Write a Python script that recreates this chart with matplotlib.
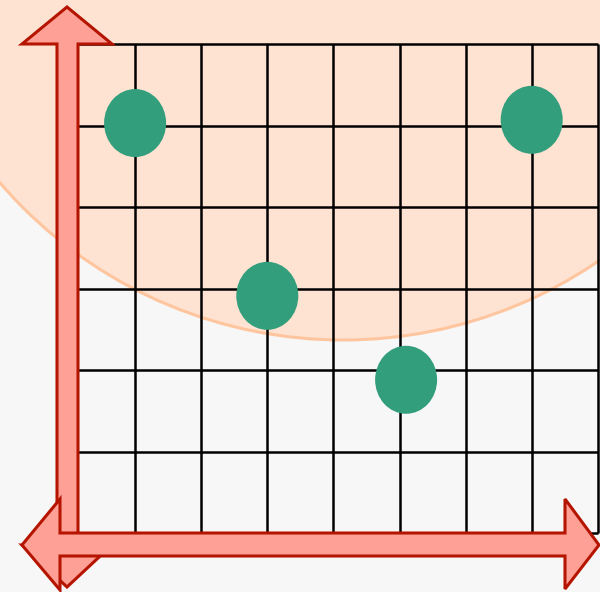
import matplotlib
matplotlib.use("Agg")
import matplotlib.pyplot as plt
from matplotlib.patches import Ellipse, Polygon

# grid size (columns x rows) and scatter points in grid units
n_cols = 8
n_rows = 6
dot_x = [1.0, 3.0, 5.1, 7.0]
dot_y = [5.03, 2.91, 1.88, 5.07]

# pixel layout of the picture -> grid units
X0, DX = 69.0, 66.1
Y0, DY = 533.0, 81.5


def px(x, y):
    return ((x - X0) / DX, (Y0 - y) / DY)


fig = plt.figure(figsize=(6, 5.92), dpi=100)
ax = fig.add_axes([0, 0, 1, 1])
ax.set_xlim(px(0, 0)[0], px(600, 0)[0])
ax.set_ylim(px(0, 592)[1], px(0, 0)[1])
ax.axis('off')
fig.patch.set_facecolor('#f7f7f7')

# big peach circle in the background
cx, cy = px(343, -113)
ax.add_patch(Ellipse((cx, cy), 2 * 453 / DX, 2 * 453 / DY,
                     facecolor='#fee3d3', edgecolor='#ffc59e', lw=2.2, zorder=1))

# grid
ax.vlines(range(n_cols + 1), 0, n_rows, color='black', lw=1.8, zorder=2)
ax.hlines(range(n_rows + 1), 0, n_cols, color='black', lw=1.8, zorder=2)

# dots
for x, y in zip(dot_x, dot_y):
    ax.add_patch(Ellipse((x, y), 62 / DX, 68 / DY, facecolor='#339e7c',
                         edgecolor='none', zorder=3))

fill = '#ffa097'
edge = '#b51500'

# vertical double arrow
vert = [(67, 7), (112, 44), (78, 44), (78, 545), (112, 545), (67, 587),
        (22, 545), (57, 545), (57, 44), (22, 44)]
ax.add_patch(Polygon([px(*p) for p in vert], closed=True, facecolor=fill,
                     edgecolor=edge, lw=2.2, joinstyle='miter', zorder=4))

# horizontal double arrow
horiz = [(22, 545), (60, 499), (60, 533), (565, 533), (565, 499), (599, 545),
         (565, 589), (565, 556), (60, 556), (60, 590)]
ax.add_patch(Polygon([px(*p) for p in horiz], closed=True, facecolor=fill,
                     edgecolor=edge, lw=2.2, joinstyle='miter', zorder=5))

fig.savefig('out.png', dpi=100, facecolor=fig.get_facecolor())
